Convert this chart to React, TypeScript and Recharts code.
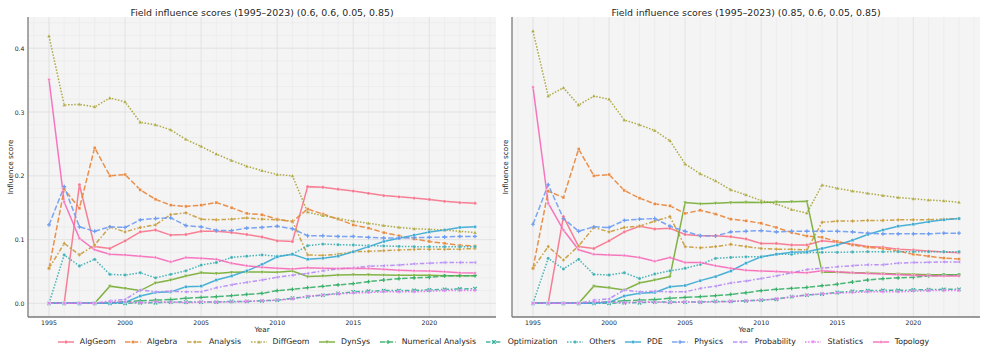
import React from "react";
import { LineChart, Line, XAxis, YAxis, CartesianGrid } from "recharts";

const years = [1995,1996,1997,1998,1999,2000,2001,2002,2003,2004,2005,2006,2007,2008,2009,2010,2011,2012,2013,2014,2015,2016,2017,2018,2019,2020,2021,2022,2023];
const seriesNames = ["AlgGeom","Algebra","Analysis","DiffGeom","DynSys","Numerical Analysis","Optimization","Others","PDE","Physics","Probability","Statistics","Topology"];
const seriesColors = ["#f77189","#e8853a","#c69a38","#a7a133","#75ab31","#38b068","#35ad98","#37acb0","#39a8d2","#6e9cf2","#b287f4","#e46ef2","#f668b8"];
const seriesDash = ["solid","dash","dashdot","dot","solid","dash","dashdot","dot","solid","dash","dashdot","dot","solid"];
const seriesMarker = ["circle","square","diamond","triangle","tridown","plus","x","circle","square","plus","trileft","tridown","star"];

const titles = ["Field influence scores (1995\u20132023) (0.6, 0.6, 0.05, 0.85)", "Field influence scores (1995\u20132023) (0.85, 0.6, 0.05, 0.85)"];
const xTicks = [1995, 2000, 2005, 2010, 2015, 2020];
const yTicks = [0, 0.1, 0.2, 0.3, 0.4];
const xMinor = [1994,1995,1996,1997,1998,1999,2000,2001,2002,2003,2004,2005,2006,2007,2008,2009,2010,2011,2012,2013,2014,2015,2016,2017,2018,2019,2020,2021,2022,2023,2024];
const yMinor = [-0.02,0,0.02,0.04,0.06,0.08,0.1,0.12,0.14,0.16,0.18,0.2,0.22,0.24,0.26,0.28,0.3,0.32,0.34,0.36,0.38,0.4,0.42,0.44];

// Panel 1 (0.6, 0.6, 0.05, 0.85)
const p1AlgGeom = [0,0,0.186,0.089,0.086,0.098,0.112,0.115,0.107,0.108,0.113,0.113,0.111,0.108,0.104,0.098,0.097,0.183,0.182,0.179,0.176,0.1725,0.169,0.167,0.165,0.163,0.160,0.158,0.157];
const p1Algebra = [0.055,0.179,0.149,0.244,0.200,0.202,0.178,0.163,0.154,0.152,0.154,0.158,0.150,0.141,0.139,0.132,0.128,0.148,0.140,0.132,0.123,0.118,0.111,0.106,0.101,0.097,0.094,0.091,0.090];
const p1Analysis = [0.055,0.094,0.076,0.0915,0.120,0.112,0.119,0.123,0.139,0.142,0.132,0.131,0.132,0.134,0.132,0.131,0.129,0.076,0.075,0.077,0.081,0.0816,0.0826,0.0837,0.0847,0.0847,0.085,0.085,0.086];
const p1DiffGeom = [0.419,0.311,0.312,0.308,0.322,0.316,0.284,0.280,0.272,0.257,0.246,0.234,0.224,0.215,0.208,0.202,0.200,0.143,0.1375,0.133,0.129,0.1255,0.122,0.119,0.117,0.116,0.115,0.113,0.111];
const p1DynSys = [0,0,0,0,0.027,0.0235,0.020,0.032,0.0366,0.043,0.048,0.047,0.0486,0.049,0.049,0.0486,0.0507,0.042,0.043,0.0444,0.045,0.045,0.0444,0.044,0.044,0.044,0.0434,0.0434,0.0434];
const p1NumAnalysis = [0,0,0,0,0.001,0.0026,0.004,0.005,0.006,0.008,0.0094,0.0105,0.012,0.014,0.0157,0.020,0.022,0.0246,0.0267,0.029,0.031,0.034,0.0366,0.0387,0.040,0.041,0.043,0.0434,0.0434];
const p1Optimization = [0,0,0,0,0,0,0.001,0.001,0.002,0.002,0.002,0.002,0.003,0.003,0.004,0.005,0.008,0.0105,0.013,0.0157,0.018,0.019,0.020,0.020,0.0204,0.021,0.022,0.0225,0.023];
const p1Others = [0,0.076,0.0586,0.069,0.0455,0.0444,0.048,0.040,0.0455,0.051,0.060,0.064,0.072,0.074,0.076,0.074,0.077,0.0905,0.093,0.092,0.0915,0.0905,0.090,0.0894,0.0889,0.0889,0.0889,0.0889,0.0889];
const p1PDE = [0,0,0,0,0,0.0016,0.0115,0.017,0.018,0.026,0.027,0.0366,0.043,0.051,0.061,0.073,0.077,0.069,0.0706,0.074,0.081,0.089,0.097,0.102,0.107,0.112,0.115,0.119,0.120];
const p1Physics = [0.123,0.183,0.120,0.113,0.120,0.119,0.131,0.133,0.134,0.122,0.120,0.1145,0.114,0.118,0.119,0.121,0.117,0.106,0.106,0.105,0.105,0.1035,0.1025,0.1025,0.103,0.1035,0.104,0.105,0.105];
const p1Probability = [0,0,0,0,0.004,0.006,0.021,0.018,0.019,0.018,0.018,0.0246,0.029,0.033,0.0366,0.041,0.044,0.047,0.051,0.054,0.056,0.058,0.059,0.060,0.062,0.063,0.064,0.064,0.064];
const p1Statistics = [0,0,0,0,0.002,0.002,0.001,0.002,0.002,0.001,0.002,0.002,0.002,0.003,0.004,0.005,0.007,0.011,0.013,0.015,0.016,0.017,0.018,0.018,0.018,0.019,0.020,0.020,0.020];
const p1Topology = [0.351,0.159,0.102,0.084,0.077,0.076,0.074,0.072,0.065,0.072,0.0706,0.069,0.063,0.059,0.0565,0.055,0.054,0.056,0.055,0.0545,0.055,0.0545,0.0533,0.052,0.051,0.0507,0.0497,0.048,0.0476];

// Panel 2 (0.85, 0.6, 0.05, 0.85)
const p2AlgGeom = [0,0,0.136,0.089,0.086,0.098,0.112,0.121,0.1166,0.1176,0.108,0.106,0.106,0.1046,0.101,0.094,0.094,0.0915,0.0915,0.098,0.0957,0.093,0.089,0.088,0.085,0.0837,0.082,0.0805,0.0795];
const p2Algebra = [0.055,0.176,0.166,0.242,0.200,0.202,0.177,0.165,0.156,0.153,0.141,0.146,0.140,0.132,0.1295,0.1255,0.119,0.111,0.1056,0.1035,0.097,0.0915,0.088,0.086,0.082,0.077,0.074,0.071,0.0695];
const p2Analysis = [0.055,0.089,0.068,0.090,0.119,0.112,0.119,0.121,0.129,0.136,0.089,0.087,0.089,0.0925,0.089,0.086,0.085,0.0847,0.0837,0.127,0.129,0.129,0.130,0.130,0.131,0.131,0.131,0.132,0.133];
const p2DiffGeom = [0.427,0.325,0.338,0.311,0.325,0.320,0.2875,0.280,0.271,0.255,0.2185,0.203,0.192,0.178,0.170,0.161,0.156,0.147,0.1415,0.1856,0.1805,0.176,0.1725,0.169,0.166,0.164,0.162,0.1607,0.1585];
const p2DynSys = [0,0,0,0,0.027,0.0246,0.021,0.032,0.0366,0.042,0.158,0.156,0.157,0.158,0.1585,0.158,0.159,0.1595,0.160,0.0486,0.0486,0.048,0.0476,0.047,0.046,0.0455,0.045,0.045,0.045];
const p2NumAnalysis = [0,0,0,0,0.001,0.0026,0.004,0.005,0.006,0.008,0.0094,0.0105,0.012,0.014,0.0167,0.020,0.022,0.0235,0.025,0.0277,0.030,0.0335,0.0366,0.0387,0.040,0.041,0.043,0.0444,0.0444];
const p2Optimization = [0,0,0,0,0,0,0.001,0.001,0.002,0.002,0.002,0.002,0.003,0.003,0.004,0.005,0.0065,0.0105,0.013,0.0146,0.017,0.0188,0.020,0.0204,0.0204,0.021,0.0214,0.022,0.022];
const p2Others = [0,0.0706,0.054,0.069,0.0455,0.0444,0.048,0.039,0.046,0.051,0.055,0.061,0.0706,0.072,0.073,0.073,0.077,0.077,0.0795,0.080,0.080,0.0805,0.081,0.081,0.081,0.081,0.081,0.081,0.081];
const p2PDE = [0,0,0,0,0,0.0016,0.0115,0.0157,0.017,0.026,0.028,0.0356,0.042,0.0507,0.063,0.073,0.077,0.080,0.081,0.086,0.0915,0.099,0.108,0.115,0.121,0.124,0.128,0.131,0.133];
const p2Physics = [0.124,0.186,0.133,0.113,0.120,0.119,0.130,0.132,0.133,0.121,0.113,0.106,0.1056,0.112,0.113,0.114,0.112,0.113,0.113,0.113,0.113,0.112,0.110,0.109,0.109,0.109,0.109,0.110,0.110];
const p2Probability = [0,0,0,0,0.005,0.007,0.021,0.018,0.019,0.018,0.018,0.0235,0.027,0.032,0.035,0.039,0.043,0.048,0.053,0.055,0.0575,0.059,0.0606,0.0606,0.063,0.064,0.0643,0.065,0.065];
const p2Statistics = [0,0,0,0,0.002,0.002,0.001,0.002,0.002,0.001,0.002,0.002,0.002,0.003,0.004,0.005,0.007,0.010,0.013,0.015,0.016,0.017,0.018,0.018,0.018,0.019,0.020,0.020,0.020];
const p2Topology = [0.339,0.157,0.115,0.084,0.077,0.076,0.075,0.072,0.066,0.072,0.064,0.064,0.059,0.055,0.052,0.0507,0.050,0.0486,0.048,0.051,0.0497,0.048,0.047,0.046,0.045,0.044,0.0434,0.043,0.043];

const panel1 = [p1AlgGeom,p1Algebra,p1Analysis,p1DiffGeom,p1DynSys,p1NumAnalysis,p1Optimization,p1Others,p1PDE,p1Physics,p1Probability,p1Statistics,p1Topology];
const panel2 = [p2AlgGeom,p2Algebra,p2Analysis,p2DiffGeom,p2DynSys,p2NumAnalysis,p2Optimization,p2Others,p2PDE,p2Physics,p2Probability,p2Statistics,p2Topology];

const buildRows = (panel: number[][]) =>
  years.map((year, i) => {
    const row: Record<string, number> = { year };
    seriesNames.forEach((name, k) => { row[name] = panel[k][i]; });
    return row;
  });

const dashArray = (d: string) => {
  if (d === "dash") return "5.5 2.2";
  if (d === "dashdot") return "4.5 1.9 1.6 1.9";
  if (d === "dot") return "1.5 1.6";
  return undefined;
};

const FONT = "'DejaVu Sans', 'Liberation Sans', sans-serif";
const TEXT = "#262626";

function Marker({ shape, cx, cy, color, s = 1.75 }: { shape: string; cx: number; cy: number; color: string; s?: number }) {
  const st = { fill: color, stroke: "#ffffff", strokeWidth: 0.3, fillOpacity: 0.9 } as any;
  switch (shape) {
    case "square":
      return <rect x={cx - s * 0.85} y={cy - s * 0.85} width={s * 1.7} height={s * 1.7} {...st} />;
    case "diamond":
      return <path d={`M${cx},${cy - s * 1.2}L${cx + s},${cy}L${cx},${cy + s * 1.2}L${cx - s},${cy}Z`} {...st} />;
    case "triangle":
      return <path d={`M${cx},${cy - s * 1.2}L${cx + s * 1.1},${cy + s * 0.8}L${cx - s * 1.1},${cy + s * 0.8}Z`} {...st} />;
    case "tridown":
      return <path d={`M${cx},${cy + s * 1.2}L${cx + s * 1.1},${cy - s * 0.8}L${cx - s * 1.1},${cy - s * 0.8}Z`} {...st} />;
    case "trileft":
      return <path d={`M${cx - s * 1.2},${cy}L${cx + s * 0.8},${cy - s * 1.1}L${cx + s * 0.8},${cy + s * 1.1}Z`} {...st} />;
    case "plus":
      return <path d={`M${cx - s * 1.1},${cy}H${cx + s * 1.1}M${cx},${cy - s * 1.1}V${cy + s * 1.1}`} stroke={color} strokeWidth={1.2} fill="none" />;
    case "x":
      return <path d={`M${cx - s},${cy - s}L${cx + s},${cy + s}M${cx - s},${cy + s}L${cx + s},${cy - s}`} stroke={color} strokeWidth={1.2} fill="none" />;
    case "star": {
      const pts: string[] = [];
      for (let i = 0; i < 10; i++) {
        const r = i % 2 === 0 ? s * 1.3 : s * 0.55;
        const a = -Math.PI / 2 + (i * Math.PI) / 5;
        pts.push(`${cx + r * Math.cos(a)},${cy + r * Math.sin(a)}`);
      }
      return <polygon points={pts.join(" ")} {...st} />;
    }
    default:
      return <circle cx={cx} cy={cy} r={s * 0.95} {...st} />;
  }
}

const makeDot = (shape: string, color: string) => (props: any) => {
  const { cx, cy, index } = props;
  if (cx == null || cy == null) return <g key={`e${index}`} />;
  return (
    <g key={`d${index}`}>
      <Marker shape={shape} cx={cx} cy={cy} color={color} />
    </g>
  );
};

const CHART_W = 497;
const CHART_H = 329;
const Y_AXIS_W = 28;
const X_AXIS_H = 12;
const MARGIN = { top: 17, right: 1, bottom: 0, left: 0 };
const PLOT_BOTTOM = CHART_H - X_AXIS_H;

const XTick = (props: any) => {
  const { x, payload } = props;
  return (
    <text x={x} y={PLOT_BOTTOM + 5} textAnchor="middle" dominantBaseline="central" fontSize={6.2} fontFamily={FONT} fill={TEXT}>
      {payload.value}
    </text>
  );
};
const YTick = (props: any) => {
  const { y, payload } = props;
  return (
    <text x={Y_AXIS_W - 3.5} y={y} textAnchor="end" dominantBaseline="central" fontSize={6.2} fontFamily={FONT} fill={TEXT}>
      {Number(payload.value).toFixed(1)}
    </text>
  );
};

function Panel({ panel, showYTicks }: { panel: number[][]; showYTicks: boolean }) {
  const rows = buildRows(panel);
  return (
    <LineChart width={CHART_W} height={CHART_H} data={rows} margin={MARGIN}>
      <CartesianGrid
        fill="#f4f4f4"
        stroke="#eaeaea"
        strokeWidth={0.6}
        horizontalValues={yMinor}
        verticalValues={xMinor}
      />
      <CartesianGrid
        fill="none"
        stroke="#e2e2e2"
        strokeWidth={0.8}
        horizontalValues={yTicks}
        verticalValues={xTicks}
      />
      <XAxis
        dataKey="year"
        type="number"
        domain={[1993.62, 2024.38]}
        ticks={xTicks}
        allowDataOverflow
        height={X_AXIS_H}
        tickLine={false}
        axisLine={{ stroke: "#7a7a7a", strokeWidth: 1.3 }}
        tick={<XTick />}
        interval={0}
      />
      <YAxis
        type="number"
        domain={[-0.0214, 0.449]}
        ticks={yTicks}
        allowDataOverflow
        width={Y_AXIS_W}
        tickLine={false}
        axisLine={{ stroke: "#7a7a7a", strokeWidth: 1.3 }}
        tick={showYTicks ? <YTick /> : false}
        interval={0}
      />
      {seriesNames.map((name, k) => (
        <Line
          key={name}
          dataKey={name}
          type="linear"
          stroke={seriesColors[k]}
          strokeOpacity={0.9}
          strokeWidth={1.5}
          strokeDasharray={dashArray(seriesDash[k])}
          dot={makeDot(seriesMarker[k], seriesColors[k])}
          activeDot={false}
          isAnimationActive={false}
        />
      ))}
    </LineChart>
  );
}

function LegendItem({ k }: { k: number }) {
  const color = seriesColors[k];
  return (
    <div style={{ display: "flex", alignItems: "center", marginRight: 9.6 }}>
      <svg width={16} height={10} style={{ display: "block" }}>
        <line x1={0} y1={5} x2={16} y2={5} stroke={color} strokeOpacity={0.9} strokeWidth={1.5} strokeDasharray={dashArray(seriesDash[k])} />
        <Marker shape={seriesMarker[k]} cx={8} cy={5} color={color} />
      </svg>
      <span style={{ marginLeft: 6, fontSize: 7.8, fontFamily: FONT, color: TEXT, whiteSpace: "nowrap", lineHeight: "10px" }}>
        {seriesNames[k]}
      </span>
    </div>
  );
}

export default function App() {
  const panelLefts = [0, 484];
  return (
    <div style={{ position: "fixed", left: 0, top: 0, width: 987, height: 350, background: "#ffffff", overflow: "hidden" }}>
      <div style={{ position: "absolute", left: panelLefts[0], top: 0 }}>
        <Panel panel={panel1} showYTicks={true} />
      </div>
      <div style={{ position: "absolute", left: panelLefts[1], top: 0 }}>
        <Panel panel={panel2} showYTicks={false} />
      </div>
      <svg width={987} height={350} style={{ position: "absolute", left: 0, top: 0, pointerEvents: "none" }}>
        {panelLefts.map((left, i) => {
          const cx = left + Y_AXIS_W + (CHART_W - Y_AXIS_W - MARGIN.right) / 2;
          const lx = left + (i === 0 ? 10 : 21.5);
          return (
            <g key={i}>
              <text x={cx} y={12} textAnchor="middle" dominantBaseline="central" fontSize={9.4} fontFamily={FONT} fill={TEXT}>
                {titles[i]}
              </text>
              <text x={cx} y={329} textAnchor="middle" dominantBaseline="central" fontSize={7.2} fontFamily={FONT} fill={TEXT}>
                Year
              </text>
              <text
                x={lx}
                y={167}
                textAnchor="middle"
                dominantBaseline="central"
                fontSize={7.2}
                fontFamily={FONT}
                fill={TEXT}
                transform={`rotate(-90 ${lx} 167)`}
              >
                Influence score
              </text>
            </g>
          );
        })}
      </svg>
      <div style={{ position: "absolute", left: 0, top: 336.5, width: 987, height: 10, display: "flex", justifyContent: "center", alignItems: "center", paddingLeft: 9.6, boxSizing: "border-box" }}>
        {seriesNames.map((_, k) => (
          <LegendItem key={k} k={k} />
        ))}
      </div>
    </div>
  );
}
